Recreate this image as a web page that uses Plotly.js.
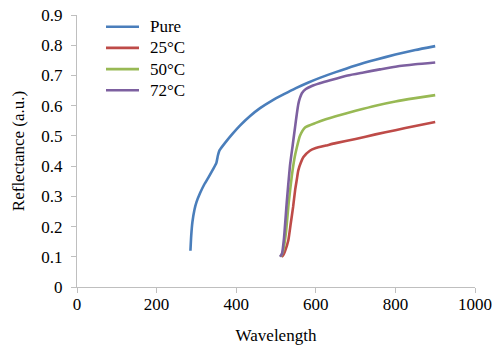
<!DOCTYPE html>
<html><head><meta charset="utf-8">
<script src="https://cdn.plot.ly/plotly-3.0.1.min.js"></script>
<style>html,body{margin:0;padding:0;background:#fff}#chart{width:492px;height:345px}</style>
</head><body><div id="chart"></div>
<script>
const seriesNames = ["Pure", "25°C", "50°C", "72°C"];
const seriesColors = ["#4A7EBB", "#BE4B48", "#98B954", "#7D60A0"];

const pureX = [285, 287, 290, 295, 300, 309, 320, 330, 342, 350, 354, 358, 375, 390, 410, 435, 460, 490, 520, 550, 580, 610, 650, 700, 750, 800, 850, 900];
const pureY = [0.12, 0.17, 0.215, 0.255, 0.28, 0.31, 0.34, 0.362, 0.39, 0.41, 0.435, 0.452, 0.482, 0.506, 0.535, 0.566, 0.592, 0.617, 0.638, 0.658, 0.676, 0.692, 0.711, 0.733, 0.752, 0.769, 0.784, 0.797];

const c25X = [514, 518, 523, 531, 537, 543, 548, 552, 556, 562, 569, 585, 600, 625, 650, 700, 750, 800, 850, 900];
const c25Y = [0.10, 0.105, 0.12, 0.155, 0.21, 0.265, 0.32, 0.353, 0.386, 0.41, 0.43, 0.451, 0.46, 0.468, 0.476, 0.49, 0.505, 0.519, 0.533, 0.546];

const c50X = [512, 518, 525, 532, 540, 547, 552, 560, 573, 600, 625, 650, 700, 750, 800, 850, 900];
const c50Y = [0.10, 0.12, 0.18, 0.28, 0.37, 0.43, 0.46, 0.50, 0.528, 0.543, 0.555, 0.565, 0.583, 0.60, 0.614, 0.625, 0.635];

const c72X = [510, 515, 520, 527, 535, 542, 548, 552, 556, 560, 565, 575, 590, 610, 636, 680, 720, 761, 800, 850, 900];
const c72Y = [0.10, 0.11, 0.16, 0.28, 0.40, 0.47, 0.53, 0.57, 0.605, 0.625, 0.641, 0.655, 0.665, 0.674, 0.684, 0.70, 0.71, 0.72, 0.729, 0.737, 0.743];

const xs = [pureX, c25X, c50X, c72X];
const ys = [pureY, c25Y, c50Y, c72Y];
const traces = seriesNames.map((n, i) => ({
  x: xs[i], y: ys[i], name: n, type: 'scatter', mode: 'lines', showlegend: false,
  line: {color: seriesColors[i], width: 2.6, shape: 'spline', smoothing: 0.5}
}));

const fam = 'Liberation Serif, Times New Roman, DejaVu Serif, serif';
const fs = 17;

// manual legend (Excel-style tight spacing)
const legTop = 26.7, legStep = 21.2;
const shapes = [], annotations = [];
seriesNames.forEach((n, i) => {
  const yy = legTop + i * legStep;
  shapes.push({type: 'line', xref: 'paper', yref: 'paper',
    x0: (106 - 77) / 398, x1: (139 - 77) / 398,
    y0: 1 - (yy - 15) / 272, y1: 1 - (yy - 15) / 272,
    line: {color: seriesColors[i], width: 2.6}});
  annotations.push({xref: 'paper', yref: 'paper', x: (148 - 77) / 398, y: 1 - (yy - 15) / 272,
    xanchor: 'left', yanchor: 'middle', text: n, showarrow: false,
    font: {family: fam, size: fs, color: '#000'}});
});

const layout = {
  width: 492, height: 345,
  margin: {l: 77, r: 17, t: 15, b: 58},
  paper_bgcolor: '#fff', plot_bgcolor: '#fff',
  font: {family: fam, size: fs, color: '#000'},
  showlegend: false,
  shapes: shapes, annotations: annotations,
  xaxis: {range: [0, 1000], dtick: 200, tick0: 0, showgrid: false, zeroline: false,
          showline: true, linecolor: '#BFBFBF', linewidth: 1, ticks: 'outside', ticklen: 5, tickcolor: '#BFBFBF',
          tickfont: {family: fam, size: fs, color: '#000'}, ticklabelstandoff: -3,
          title: {text: 'Wavelength', font: {family: fam, size: fs, color: '#000'}, standoff: 16}},
  yaxis: {range: [0, 0.9], dtick: 0.1, tick0: 0, showgrid: false, zeroline: false,
          showline: true, linecolor: '#BFBFBF', linewidth: 1, ticks: 'outside', ticklen: 5, tickcolor: '#BFBFBF',
          tickfont: {family: fam, size: fs, color: '#000'}, ticklabelstandoff: 5,
          title: {text: 'Reflectance (a.u.)', font: {family: fam, size: fs, color: '#000'}, standoff: 12}}
};
Plotly.newPlot('chart', traces, layout, {displayModeBar: false, staticPlot: true});
</script></body></html>
